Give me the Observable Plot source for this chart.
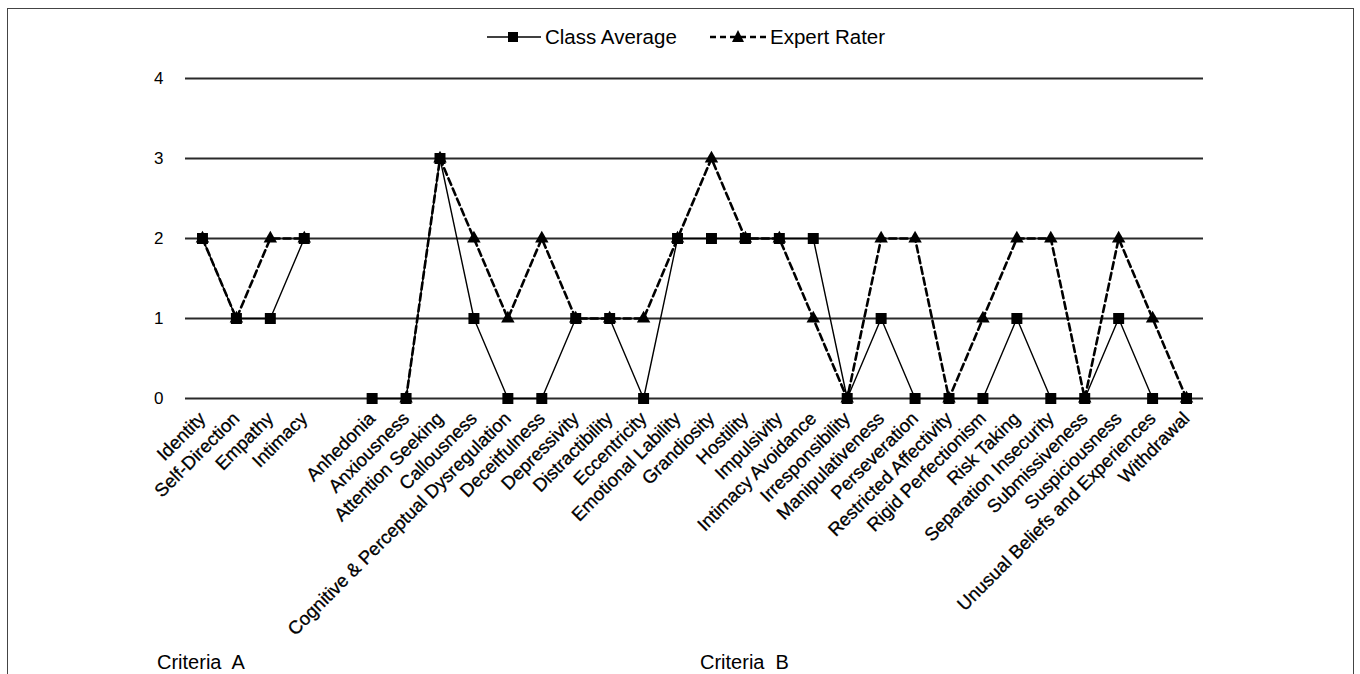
<!DOCTYPE html>
<html>
<head>
<meta charset="utf-8">
<script src="https://cdn.jsdelivr.net/npm/d3@7"></script>
<script src="https://cdn.jsdelivr.net/npm/@observablehq/plot@0.6"></script>
<style>
  html, body { margin: 0; padding: 0; background: #fff; }
  body { width: 1360px; height: 674px; position: relative; overflow: hidden; font-family: "Liberation Sans", Arial, sans-serif; color: #000; }
  #frame { position: absolute; left: 7px; top: 8px; width: 1347px; height: 720px; border: 1.6px solid #444; box-sizing: border-box; }
  #chart { position: absolute; left: 0; top: 60px; }
  #chart g[aria-label="x-axis tick label"] text { stroke: #000; stroke-width: 0.3px; }
  .legend { position: absolute; top: 25px; font-size: 20.5px; display: flex; align-items: center; white-space: nowrap; }
  .legend svg { display: block; }
  .crit { position: absolute; top: 651px; font-size: 20px; white-space: pre; }
</style>
</head>
<body>
<div id="frame"></div>
<div class="legend" style="left:486px;">
  <svg width="58" height="24"><line x1="1" x2="55" y1="12" y2="12" stroke="#000" stroke-width="1.6"/><rect x="22" y="7" width="10" height="10" fill="#000"/></svg>
  <span style="margin-left:1px;">Class Average</span>
</div>
<div class="legend" style="left:709px;">
  <svg width="60" height="24"><line x1="1" x2="57" y1="12" y2="12" stroke="#000" stroke-width="2.4" stroke-dasharray="6,4"/><path d="M29,5 L35,17 L23,17 Z" fill="#000"/></svg>
  <span style="margin-left:1px;">Expert Rater</span>
</div>
<div id="chart"></div>
<div class="crit" style="left:157px;">Criteria  A</div>
<div class="crit" style="left:700px;">Criteria  B</div>
<script>
const categories = [
  "Identity", "Self-Direction", "Empathy", "Intimacy", "",
  "Anhedonia", "Anxiousness", "Attention Seeking", "Callousness",
  "Cognitive & Perceptual Dysregulation", "Deceitfulness", "Depressivity",
  "Distractibility", "Eccentricity", "Emotional Lability", "Grandiosity",
  "Hostility", "Impulsivity", "Intimacy Avoidance", "Irresponsibility",
  "Manipulativeness", "Perseveration", "Restricted Affectivity",
  "Rigid Perfectionism", "Risk Taking", "Separation Insecurity",
  "Submissiveness", "Suspiciousness", "Unusual Beliefs and Experiences",
  "Withdrawal"
];
const classAverage = [2, 1, 1, 2, null, 0, 0, 3, 1, 0, 0, 1, 1, 0, 2, 2, 2, 2, 2, 0, 1, 0, 0, 0, 1, 0, 0, 1, 0, 0];
const expertRater  = [2, 1, 2, 2, null, null, 0, 3, 2, 1, 2, 1, 1, 1, 2, 3, 2, 2, 1, 0, 2, 2, 0, 1, 2, 2, 0, 2, 1, 0];
const yTicks = [0, 1, 2, 3, 4];

const rows = categories.map((c, i) => ({
  cat: c,
  cls: classAverage[i] == null ? NaN : classAverage[i],
  exp: expertRater[i] == null ? NaN : expertRater[i]
}));

const chart = Plot.plot({
  width: 1360,
  height: 614,
  marginLeft: 185,
  marginRight: 157,
  marginTop: 18,
  marginBottom: 276,
  style: { fontFamily: "'Liberation Sans', Arial, sans-serif", fontSize: "16px", color: "#000", background: "transparent", overflow: "visible" },
  x: { type: "point", domain: categories, padding: 0.5, round: false, label: null },
  y: { domain: [0, 4], label: null },
  marks: [
    Plot.ruleY(yTicks, { stroke: "#2a2a2a", strokeWidth: 1.8 }),
    Plot.axisY({ ticks: yTicks, tickFormat: "d", tickSize: 0, tickPadding: 22, fontSize: 17, label: null }),
    Plot.axisX({ tickSize: 0, tickRotate: -45, tickPadding: 17, fontSize: 18.5, label: null }),
    Plot.line(rows, { x: "cat", y: "cls", stroke: "#000", strokeWidth: 1.4 }),
    Plot.dot(rows, { x: "cat", y: "cls", symbol: "square", fill: "#000", r: 6.2 }),
    Plot.line(rows, { x: "cat", y: "exp", stroke: "#000", strokeWidth: 2.6, strokeDasharray: "7,4" }),
    Plot.dot(rows, { x: "cat", y: "exp", symbol: "triangle", fill: "#000", r: 5 })
  ]
});
document.getElementById("chart").appendChild(chart);
</script>
</body>
</html>
